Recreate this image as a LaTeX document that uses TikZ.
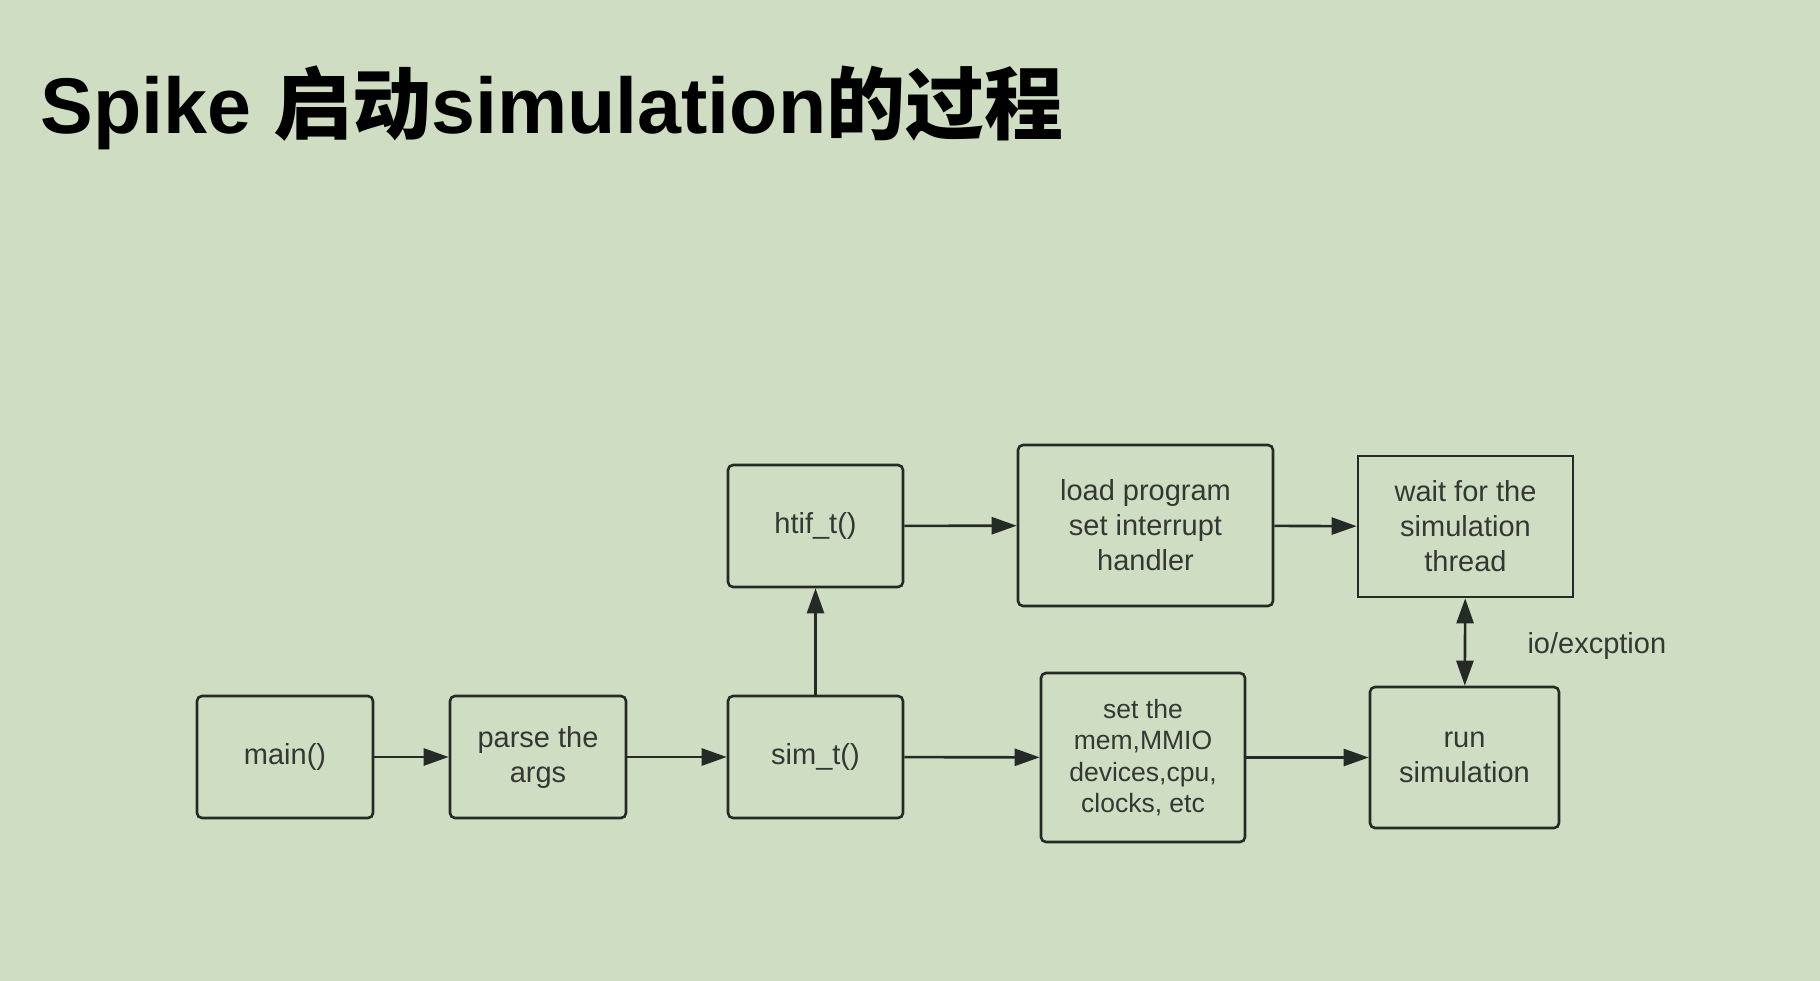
\documentclass[tikz,border=0pt]{standalone}
\usepackage{fontspec}
\setmainfont{Liberation Sans}
\newfontfamily\cjkfont{Noto Sans CJK SC Bold}
\usepackage{tikz}
\usetikzlibrary{arrows.meta,positioning}
\definecolor{bg}{RGB}{207,222,195}
\definecolor{ln}{RGB}{38,42,38}
\definecolor{txt}{RGB}{52,56,52}
\newcommand{\boxfont}{\fontsize{29}{35}\selectfont}
\newcommand{\smallboxfont}{\fontsize{26.5}{31.5}\selectfont}

\begin{document}
\begin{tikzpicture}[x=1pt,y=-1pt,
    blk/.style={draw=ln,line width=2.6pt,rounded corners=5pt,inner sep=0pt,
      align=center,text=txt,font=\boxfont},
    flow/.style={draw=ln,line width=2.6pt,-{Triangle[length=25pt,width=17pt]}}]
  \useasboundingbox (0,0) rectangle (1820,981);
  \fill[bg] (0,0) rectangle (1820,981);
  \node[anchor=base west,font=\fontsize{79}{95}\selectfont\bfseries] (title) at (37,134)
    {Spike {\cjkfont 启动}simulation{\cjkfont 的过程}};

  \node[blk,minimum width=176pt,minimum height=122pt] (main) at (285,757) {main()};
  \node[blk,minimum width=176pt,minimum height=122pt] (args) at (538,757) {parse the\\args};
  \node[blk,minimum width=175pt,minimum height=122pt] (sim) at (815.5,757) {sim\_t()};
  \node[blk,minimum width=175pt,minimum height=122pt] (htif) at (815.5,526) {htif\_t()};
  \node[blk,minimum width=255pt,minimum height=161pt] (load) at (1145.5,525.5)
    {load program\\set interrupt\\handler};
  \node[blk,rounded corners=0pt,minimum width=215pt,minimum height=141pt] (wait) at (1465.5,526.5)
    {wait for the\\simulation\\thread};
  \node[blk,font=\smallboxfont,minimum width=204pt,minimum height=169pt] (devs) at (1143,757.5)
    {set the\\mem,MMIO\\devices,cpu,\\clocks, etc};
  \node[blk,minimum width=189pt,minimum height=141pt] (run) at (1464.5,757.5) {run\\simulation};

  \draw[flow] (main) -- (args);
  \draw[flow] (args) -- (sim);
  \draw[flow] (sim) -- (htif);
  \draw[flow] (htif) -- (load);
  \draw[flow] (load) -- (wait);
  \draw[flow] (sim) -- (devs);
  \draw[flow] (devs) -- (run);
  \draw[flow,{Triangle[length=25pt,width=17pt]}-{Triangle[length=25pt,width=17pt]}] (wait) -- (run);
  \node[anchor=west,text=txt,font=\boxfont] (io) at (1524,646) {io/excption};
\end{tikzpicture}
\end{document}
